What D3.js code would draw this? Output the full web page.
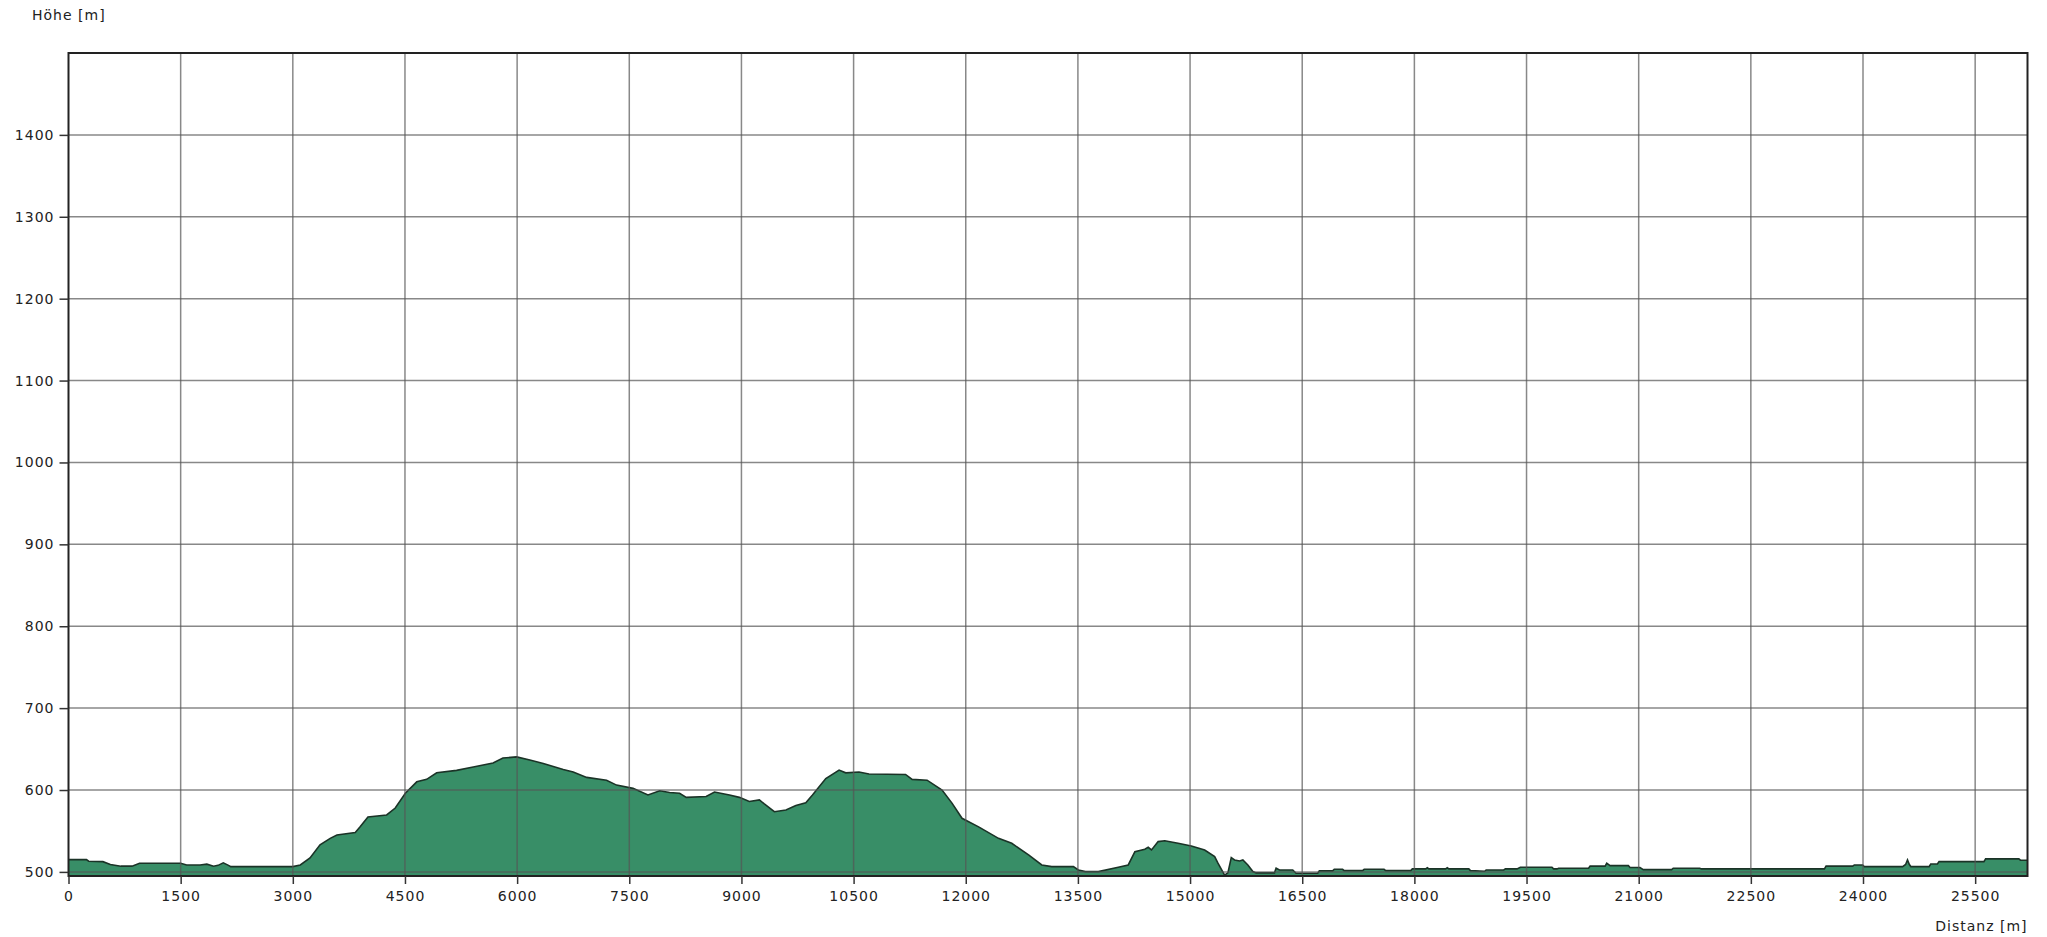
<!DOCTYPE html>
<html>
<head>
<meta charset="utf-8">
<script src="https://cdn.jsdelivr.net/npm/d3@7"></script>
<style>
    body { margin: 0; background: #fff; }
    svg { display: block; }
    .tick text, .label { font-family: "DejaVu Sans", Verdana, sans-serif; font-size: 14px; letter-spacing: 1px; fill: #222; }
</style>
</head>
<body>
<svg id="chart" width="2047" height="937"></svg>
<script>
// distance along the route [m]
const distance = [
    0, 240, 270, 460, 560, 700, 850, 950, 1500, 1580, 1760, 1850, 1940, 2000, 2070, 2140, 2170,
    3000, 3100, 3230, 3364, 3500, 3590, 3835, 3900, 4005, 4255, 4370, 4505, 4658, 4790, 4924,
    5190, 5413, 5678, 5810, 5993, 6170, 6350, 6617, 6750, 6930, 7196, 7330, 7550, 7750, 7907,
    8040, 8173, 8262, 8528, 8640, 8840, 8972, 9105, 9240, 9306, 9440, 9595, 9728, 9861, 9950,
    10128, 10306, 10395, 10572, 10706, 11195, 11283, 11483, 11683, 11816, 11950, 12172, 12438,
    12615, 12840, 13017, 13150, 13440, 13506, 13600, 13773, 14040, 14173, 14262, 14395, 14440,
    14484, 14573, 14662, 14840, 15017, 15195, 15329, 15373, 15462, 15506, 15551, 15595, 15662,
    15706, 15773, 15840, 15884, 16129, 16151, 16196, 16373, 16418, 16707, 16729, 16907, 16929,
    17040, 17062, 17306, 17329, 17595, 17617, 17951, 17973, 18151, 18173, 18195, 18417, 18440,
    18462, 18728, 18750, 18940, 18960, 19195, 19217, 19373, 19417, 19840, 19862, 19906, 19929,
    20329, 20350, 20551, 20573, 20617, 20862, 20884, 21017, 21062, 21440, 21462, 21817, 21840,
    23484, 23506, 23862, 23884, 23995, 24017, 24530, 24570, 24595, 24620, 24640, 24884, 24906,
    24995, 25017, 25617, 25640, 26084, 26106, 26200
]
// elevation [m]
const elevation = [
    515, 515, 513, 512.5, 509, 507, 507, 510.5, 510.5, 508.5, 508.5, 509.5, 507, 508, 511, 508, 506.5,
    506.5, 508.5, 517, 533, 541, 545, 548, 555, 567, 569.5, 578, 596, 610, 613, 621,
    624, 628, 633, 639, 640.5, 636.6, 632.5, 625, 622, 615.4, 612, 606, 602, 594, 599,
    597, 596, 591, 592, 597.6, 594, 591, 586, 588, 583, 573.5, 575.6, 581, 584.5, 594,
    614, 624.4, 621, 622, 619.5, 619, 613, 612, 600, 584, 565.5, 555, 541,
    535, 520.7, 508.5, 506.5, 506.5, 502.4, 500.4, 500.4, 505.7, 508.5, 524.8, 527.6, 530,
    526.8, 537, 538, 535, 531.7, 526.8, 518.7, 510.6, 496, 498.8, 517.5, 514.6, 513.4,
    514.6, 508.5, 500.4, 498.8, 498.8, 504.5, 502.4, 502.4, 498.4, 498.4, 501.2, 501.2, 503.2,
    503.2, 501.6, 501.6, 503.2, 503.2, 501.6, 501.6, 503.7, 503.7, 505, 503.7, 503.7, 505,
    503.7, 503.7, 501.6, 500.8, 502.4, 502.4, 503.7, 503.7, 505.7, 505.7, 503.7, 503.7, 504.5,
    504.5, 507, 507, 510.6, 507.7, 507.7, 505.3, 505.3, 502.8, 502.8, 504.5, 504.5, 503.7,
    503.7, 507, 507, 508.5, 508.5, 506.5, 506.5, 509, 514.6, 509, 506.5, 506.5, 509.7,
    509.7, 512.6, 512.6, 515.9, 515.9, 514.3, 514.3
]
const xTicks = d3.range(0, 25501, 1500)
const yTicks = d3.range(500, 1401, 100)
const xMax = 26200
const yDomain = [495, 1500]

const profile = distance.map((d, i) => ({d: d, h: elevation[i]}))

const plotLeft = 68.5, plotRight = 2027.5, plotTop = 53, plotBottom = 876

const svg = d3.select("#chart")
const xScale = d3.scaleLinear([0, xMax], [plotLeft, plotRight])
const yScale = d3.scaleLinear(yDomain, [plotBottom, plotTop])

// profile area
svg.append("path")
    .datum(profile)
    .attr("fill", "#388e67")
    .attr("d", d3.area().x(d => xScale(d.d)).y0(plotBottom).y1(d => yScale(d.h)))

svg.append("path")
    .datum(profile)
    .attr("fill", "none")
    .attr("stroke", "#1b3327")
    .attr("stroke-width", 1.6)
    .attr("d", d3.line().x(d => xScale(d.d)).y(d => yScale(d.h)))

// grid on top of the area
const grid = svg.append("g")
    .attr("stroke", "#555")
    .attr("stroke-opacity", 0.7)
    .attr("stroke-width", 1.5)
grid.selectAll(".vx")
    .data(xTicks.slice(1))
    .join("line")
    .attr("x1", d => xScale(d)).attr("x2", d => xScale(d))
    .attr("y1", plotTop).attr("y2", plotBottom)
grid.selectAll(".hy")
    .data(yTicks)
    .join("line")
    .attr("x1", plotLeft).attr("x2", plotRight)
    .attr("y1", d => yScale(d)).attr("y2", d => yScale(d))

// frame
svg.append("rect")
    .attr("x", plotLeft).attr("y", plotTop)
    .attr("width", plotRight - plotLeft).attr("height", plotBottom - plotTop)
    .attr("fill", "none")
    .attr("stroke", "#222")
    .attr("stroke-width", 2)

const xAxis = svg.append("g")
    .attr("transform", `translate(0, ${plotBottom})`)
    .call(d3.axisBottom(xScale).tickValues(xTicks).tickFormat(d3.format("d")).tickSize(8).tickPadding(7))
xAxis.select(".domain").remove()

const yAxis = svg.append("g")
    .attr("transform", `translate(${plotLeft}, 0)`)
    .call(d3.axisLeft(yScale).tickValues(yTicks).tickFormat(d3.format("d")).tickSize(9).tickPadding(5))
yAxis.select(".domain").remove()

svg.selectAll(".tick line").attr("stroke", "#333").attr("stroke-width", 1.5)
svg.selectAll(".tick text").attr("font-size", null).attr("font-family", null)

svg.append("text")
    .attr("class", "label")
    .attr("x", 32)
    .attr("y", 20)
    .text("Höhe [m]")

svg.append("text")
    .attr("class", "label")
    .attr("x", plotRight)
    .attr("y", 931)
    .attr("text-anchor", "end")
    .text("Distanz [m]")
</script>
</body>
</html>
